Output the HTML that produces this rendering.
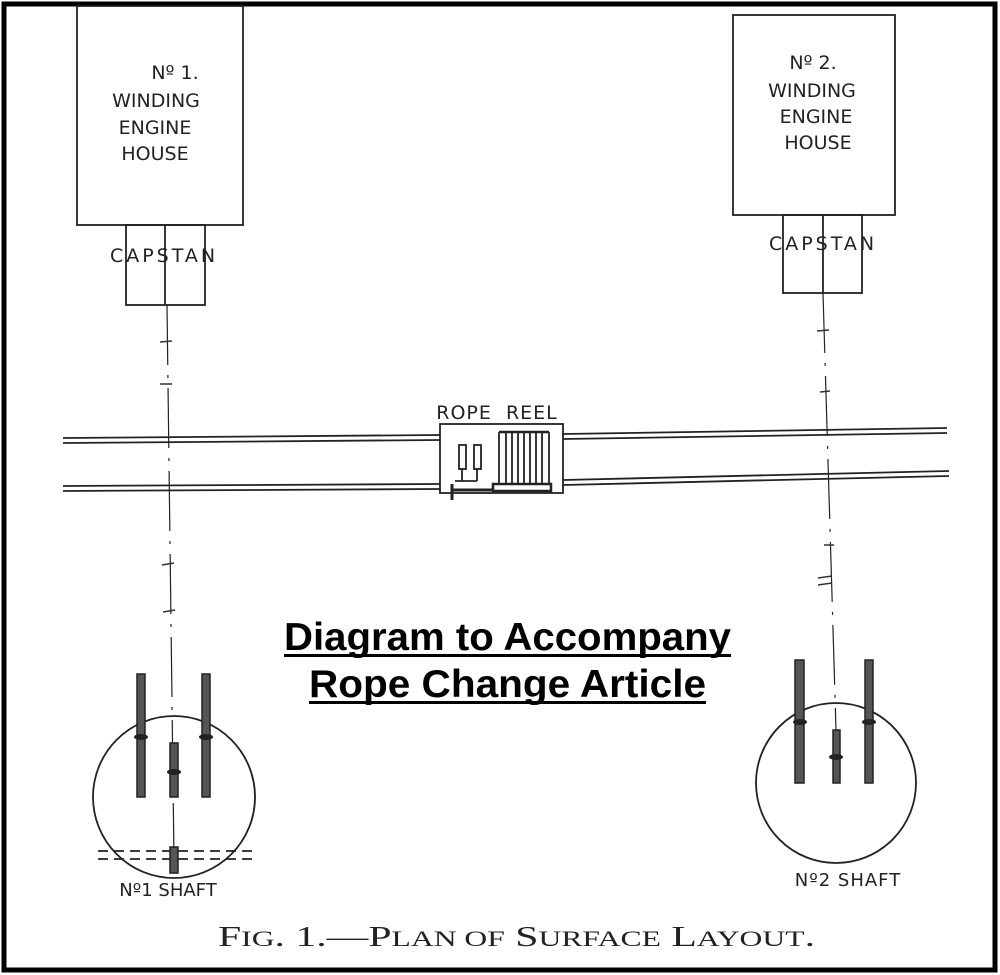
<!DOCTYPE html>
<html><head><meta charset="utf-8"><style>
html,body{margin:0;padding:0;background:#fff;}
svg{display:block;}
.h{font-family:"DejaVu Sans","Liberation Sans",sans-serif;font-size:19px;fill:#222;}
</style></head><body>
<svg width="1000" height="975" viewBox="0 0 1000 975" xmlns="http://www.w3.org/2000/svg">
<rect x="0" y="0" width="1000" height="975" fill="#fff"/>
<rect x="4" y="4" width="991" height="966" fill="none" stroke="#000" stroke-width="5"/>
<g fill="none" stroke="#222" stroke-width="1.8">
<rect x="77" y="6" width="166" height="219"/>
<rect x="126" y="225" width="79" height="80"/>
<line x1="165" y1="225" x2="165" y2="305"/>
<rect x="733" y="15" width="162" height="200"/>
<rect x="783" y="215" width="79" height="78"/>
<line x1="823" y1="215" x2="823" y2="293"/>
<line x1="167" y1="305" x2="174" y2="860" stroke-dasharray="60 10 3 10" stroke-width="1.2"/>
<line x1="823" y1="293" x2="836" y2="730" stroke-dasharray="60 10 3 10" stroke-width="1.2"/>
<line x1="63" y1="438" x2="440" y2="435"/><line x1="63" y1="443" x2="440" y2="440"/>
<line x1="63" y1="486" x2="440" y2="484"/><line x1="63" y1="491" x2="440" y2="489"/>
<line x1="563" y1="434" x2="947" y2="428"/><line x1="563" y1="439" x2="947" y2="433"/>
<line x1="563" y1="480" x2="949" y2="471"/><line x1="563" y1="485" x2="949" y2="476"/>
<rect x="440" y="424" width="123" height="69"/>
<rect x="459" y="445" width="7" height="24"/><rect x="474" y="445" width="7" height="24"/>
<line x1="499" y1="432" x2="549" y2="432" stroke-width="2.5"/>
<line x1="499" y1="432" x2="499" y2="485"/><line x1="549" y1="432" x2="549" y2="485"/>
<line x1="506" y1="433" x2="506" y2="483"/><line x1="512" y1="433" x2="512" y2="483"/><line x1="518" y1="433" x2="518" y2="483"/><line x1="524" y1="433" x2="524" y2="483"/><line x1="530" y1="433" x2="530" y2="483"/><line x1="536" y1="433" x2="536" y2="483"/><line x1="542" y1="433" x2="542" y2="483"/>
<rect x="493" y="484" width="58" height="7" stroke-width="2.5"/>
<line x1="452" y1="490" x2="493" y2="490" stroke-width="3"/>
<line x1="452" y1="484" x2="452" y2="500" stroke-width="3"/>
<line x1="462" y1="469" x2="462" y2="481"/><line x1="477" y1="469" x2="477" y2="481"/><line x1="455" y1="481" x2="477" y2="481"/>
<circle cx="174" cy="797" r="81"/>
<circle cx="836" cy="783" r="80"/>
<line x1="98" y1="851" x2="253" y2="851" stroke-dasharray="10 6"/>
<line x1="98" y1="859" x2="253" y2="859" stroke-dasharray="10 6"/>
</g>
<g fill="#555" stroke="#222" stroke-width="1.5">
<rect x="137" y="674" width="8" height="123"/><rect x="202" y="674" width="8" height="123"/>
<rect x="170" y="743" width="8" height="54"/><rect x="170" y="847" width="8" height="26"/>
<rect x="795" y="660" width="9" height="123"/><rect x="865" y="660" width="8" height="123"/>
<rect x="833" y="730" width="7" height="53"/>
</g>
<g fill="#222">
<ellipse cx="141" cy="737" rx="7" ry="3"/><ellipse cx="206" cy="737" rx="7" ry="3"/><ellipse cx="174" cy="772" rx="7" ry="3"/>
<ellipse cx="800" cy="722" rx="7" ry="3"/><ellipse cx="869" cy="722" rx="7" ry="3"/><ellipse cx="836" cy="757" rx="7" ry="3"/>
</g>
<g stroke="#333" stroke-width="1.5">
<line x1="160" y1="342" x2="172" y2="341"/><line x1="160" y1="384" x2="172" y2="384"/><line x1="162" y1="565" x2="174" y2="563"/><line x1="163" y1="612" x2="175" y2="610"/>
<line x1="817" y1="331" x2="829" y2="330"/><line x1="820" y1="392" x2="830" y2="391"/><line x1="824" y1="545" x2="834" y2="545"/><line x1="818" y1="578" x2="832" y2="576"/><line x1="818" y1="585" x2="832" y2="583"/>
</g>
<g class="h" text-anchor="middle">
<text x="175" y="79">Nº 1.</text>
<text x="156" y="107">WINDING</text>
<text x="155" y="134">ENGINE</text>
<text x="155" y="160">HOUSE</text>
<text x="164" y="262" letter-spacing="3">CAPSTAN</text>
<text x="813" y="69">Nº 2.</text>
<text x="812" y="97">WINDING</text>
<text x="816" y="123">ENGINE</text>
<text x="818" y="149">HOUSE</text>
<text x="823" y="250" letter-spacing="3">CAPSTAN</text>
<text x="497" y="419" letter-spacing="1">ROPE&#160;&#160;REEL</text>
<text x="168" y="896" font-size="18">Nº1 SHAFT</text>
<text x="848" y="886" font-size="18" letter-spacing="1">Nº2&#160;SHAFT</text>
</g>
<g font-family="Liberation Sans,Arial,sans-serif" font-weight="bold" font-size="39" fill="#000">
<text x="284" y="650" textLength="447" lengthAdjust="spacingAndGlyphs">Diagram to Accompany</text>
<text x="309" y="697" textLength="397" lengthAdjust="spacingAndGlyphs">Rope Change Article</text>
</g>
<rect x="284" y="654" width="447" height="3" fill="#000"/>
<rect x="309" y="701" width="397" height="3" fill="#000"/>
<text x="218" y="946" textLength="597" lengthAdjust="spacingAndGlyphs" font-family="Liberation Serif,serif" font-size="29" fill="#222">F<tspan font-size="22">IG</tspan>. 1.—P<tspan font-size="22">LAN OF</tspan> S<tspan font-size="22">URFACE</tspan> L<tspan font-size="22">AYOUT</tspan>.</text>
</svg>
</body></html>
